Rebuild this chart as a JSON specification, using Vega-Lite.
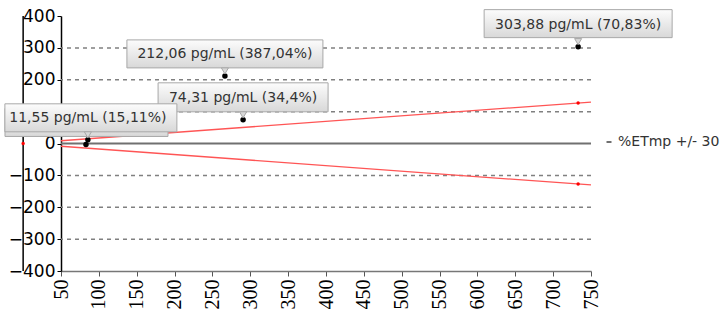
{
  "$schema": "https://vega.github.io/schema/vega-lite/v6.json",
  "width": 530,
  "height": 255,
  "autosize": "none",
  "padding": {"left": 61, "top": 16, "right": 130, "bottom": 38},
  "config": {
    "view": {"stroke": null},
    "font": "DejaVu Sans",
    "axisX": {"title": null, "tickCount": 14, "grid": false, "labelOverlap": false, "labelFlush": false, "domainColor": "#777", "domainWidth": 1.5, "tickColor": "#555", "tickSize": 5, "labelAngle": 270, "labelPadding": 3, "labelFontSize": 20, "labelColor": "#000", "labelFont": "Liberation Sans Narrow"},
    "axisY": {"title": null, "tickCount": 8, "grid": false, "labelOverlap": false, "labelFlush": false, "domainColor": "#000", "domainWidth": 1.5, "tickColor": "#000", "tickSize": 4, "labelPadding": 2, "labelFontSize": 17, "labelColor": "#000", "labelFont": "DejaVu Sans"}
  },
  "datasets": {
    "pts": [
      {"id": "B", "x": 83, "y": -3, "label": ""},
      {"id": "D", "x": 290.5, "y": 74.31, "label": "74,31 pg/mL (34,4%)"},
      {"id": "A", "x": 85.5, "y": 11.55, "label": "11,55 pg/mL (15,11%)"},
      {"id": "C", "x": 266.5, "y": 212.06, "label": "212,06 pg/mL (387,04%)"},
      {"id": "E", "x": 733, "y": 303.88, "label": "303,88 pg/mL (70,83%)"}
    ],
    "grid": [{"y": 300}, {"y": 200}, {"y": 100}, {"y": -100}, {"y": -200}, {"y": -300}],
    "zero": [{"y": 0, "s": "%ETmp +/- 30"}],
    "axis0": [{"x": 0, "y": -400, "y2": 400}],
    "limits": [
      {"s": "upper", "x": 50, "y": 8.7},
      {"s": "upper", "x": 750, "y": 130},
      {"s": "lower", "x": 50, "y": -8.7},
      {"s": "lower", "x": 750, "y": -130}
    ],
    "limdots": [{"x": 0, "y": 0}, {"x": 733, "y": 127}, {"x": 733, "y": -127}]
  },
  "layer": [
    {
      "data": {"name": "grid"},
      "mark": {"type": "rule", "color": "#808080", "strokeDash": [4, 4], "strokeWidth": 1.5},
      "encoding": {
        "y": {"field": "y", "type": "quantitative", "title": null, "scale": {"domain": [-400, 400], "nice": false, "zero": false}}
      }
    },
    {
      "data": {"name": "pts"},
      "mark": {"type": "point", "opacity": 0},
      "encoding": {
        "x": {"field": "x", "type": "quantitative", "title": null, "scale": {"domain": [50, 750], "nice": false, "zero": false}},
        "y": {"field": "y", "type": "quantitative", "title": null}
      }
    },
    {
      "data": {"name": "zero"},
      "mark": {"type": "rule", "strokeWidth": 2},
      "encoding": {
        "y": {"field": "y", "type": "quantitative", "title": null},
        "color": {"field": "s", "type": "nominal", "scale": {"range": ["#707070"]},
          "legend": {"title": null, "orient": "none", "legendX": 541, "legendY": 119, "symbolType": "stroke", "symbolSize": 25, "symbolStrokeWidth": 2, "labelFontSize": 14, "labelColor": "#333", "labelFont": "DejaVu Sans", "labelOffset": 2}}
      }
    },
    {
      "data": {"name": "axis0"},
      "mark": {"type": "rule", "color": "#000", "strokeWidth": 1.5},
      "encoding": {
        "x": {"field": "x", "type": "quantitative", "title": null},
        "y": {"field": "y", "type": "quantitative", "title": null},
        "y2": {"field": "y2"}
      }
    },
    {
      "data": {"name": "limits"},
      "mark": {"type": "line", "color": "#ff5555", "strokeWidth": 1.3},
      "encoding": {
        "x": {"field": "x", "type": "quantitative", "title": null},
        "y": {"field": "y", "type": "quantitative", "title": null},
        "detail": {"field": "s"}
      }
    },
    {
      "data": {"name": "limdots"},
      "mark": {"type": "circle", "color": "#ff0000", "size": 12, "opacity": 1},
      "encoding": {
        "x": {"field": "x", "type": "quantitative", "title": null},
        "y": {"field": "y", "type": "quantitative", "title": null}
      }
    },
    {
      "data": {"name": "pts"},
      "mark": {"type": "circle", "color": "#000", "size": 30, "opacity": 1},
      "encoding": {
        "x": {"field": "x", "type": "quantitative", "title": null},
        "y": {"field": "y", "type": "quantitative", "title": null}
      }
    },
    {
      "data": {"name": "pts"},
      "transform": [{"filter": "datum.id === 'B'"}],
      "mark": {"type": "rect", "xOffset": -81, "x2Offset": 82, "yOffset": -36, "y2Offset": -8, "stroke": "#a8a8a8", "strokeWidth": 1,
        "fill": {"gradient": "linear", "x1": 0, "y1": 0, "x2": 0, "y2": 1, "stops": [{"offset": 0, "color": "#fcfcfc"}, {"offset": 1, "color": "#d8d8d8"}]}},
      "encoding": {
        "x": {"field": "x", "type": "quantitative", "title": null}, "x2": {"field": "x"},
        "y": {"field": "y", "type": "quantitative", "title": null}, "y2": {"field": "y"}
      }
    },
    {
      "data": {"name": "pts"},
      "transform": [{"filter": "datum.id === 'D'"}],
      "mark": {"type": "rect", "xOffset": -85, "x2Offset": 85, "yOffset": -37, "y2Offset": -8, "stroke": "#a8a8a8", "strokeWidth": 1,
        "fill": {"gradient": "linear", "x1": 0, "y1": 0, "x2": 0, "y2": 1, "stops": [{"offset": 0, "color": "#fcfcfc"}, {"offset": 1, "color": "#d8d8d8"}]}},
      "encoding": {
        "x": {"field": "x", "type": "quantitative", "title": null}, "x2": {"field": "x"},
        "y": {"field": "y", "type": "quantitative", "title": null}, "y2": {"field": "y"}
      }
    },
    {
      "data": {"name": "pts"},
      "transform": [{"filter": "datum.id === 'A'"}],
      "mark": {"type": "rect", "xOffset": -83, "x2Offset": 89, "yOffset": -36, "y2Offset": -8, "stroke": "#a8a8a8", "strokeWidth": 1,
        "fill": {"gradient": "linear", "x1": 0, "y1": 0, "x2": 0, "y2": 1, "stops": [{"offset": 0, "color": "#fcfcfc"}, {"offset": 1, "color": "#d8d8d8"}]}},
      "encoding": {
        "x": {"field": "x", "type": "quantitative", "title": null}, "x2": {"field": "x"},
        "y": {"field": "y", "type": "quantitative", "title": null}, "y2": {"field": "y"}
      }
    },
    {
      "data": {"name": "pts"},
      "transform": [{"filter": "datum.id === 'C'"}],
      "mark": {"type": "rect", "xOffset": -98, "x2Offset": 98, "yOffset": -36, "y2Offset": -8, "stroke": "#a8a8a8", "strokeWidth": 1,
        "fill": {"gradient": "linear", "x1": 0, "y1": 0, "x2": 0, "y2": 1, "stops": [{"offset": 0, "color": "#fcfcfc"}, {"offset": 1, "color": "#d8d8d8"}]}},
      "encoding": {
        "x": {"field": "x", "type": "quantitative", "title": null}, "x2": {"field": "x"},
        "y": {"field": "y", "type": "quantitative", "title": null}, "y2": {"field": "y"}
      }
    },
    {
      "data": {"name": "pts"},
      "transform": [{"filter": "datum.id === 'E'"}],
      "mark": {"type": "rect", "xOffset": -94, "x2Offset": 94, "yOffset": -37, "y2Offset": -9, "stroke": "#a8a8a8", "strokeWidth": 1,
        "fill": {"gradient": "linear", "x1": 0, "y1": 0, "x2": 0, "y2": 1, "stops": [{"offset": 0, "color": "#fcfcfc"}, {"offset": 1, "color": "#d8d8d8"}]}},
      "encoding": {
        "x": {"field": "x", "type": "quantitative", "title": null}, "x2": {"field": "x"},
        "y": {"field": "y", "type": "quantitative", "title": null}, "y2": {"field": "y"}
      }
    },
    {
      "data": {"name": "pts"},
      "transform": [{"filter": "datum.label !== ''"}],
      "mark": {"type": "point", "shape": "triangle-down", "size": 50, "yOffset": -5, "filled": true, "fill": "#d8d8d8", "stroke": "#a8a8a8", "strokeWidth": 1, "opacity": 1},
      "encoding": {
        "x": {"field": "x", "type": "quantitative", "title": null},
        "y": {"field": "y", "type": "quantitative", "title": null}
      }
    },
    {
      "data": {"name": "pts"},
      "transform": [{"filter": "datum.label !== ''"}],
      "mark": {"type": "text", "dy": -22, "fontSize": 14, "color": "#333", "font": "DejaVu Sans", "align": "center", "baseline": "middle"},
      "encoding": {
        "x": {"field": "x", "type": "quantitative", "title": null},
        "y": {"field": "y", "type": "quantitative", "title": null},
        "text": {"field": "label"}
      }
    }
  ]
}
